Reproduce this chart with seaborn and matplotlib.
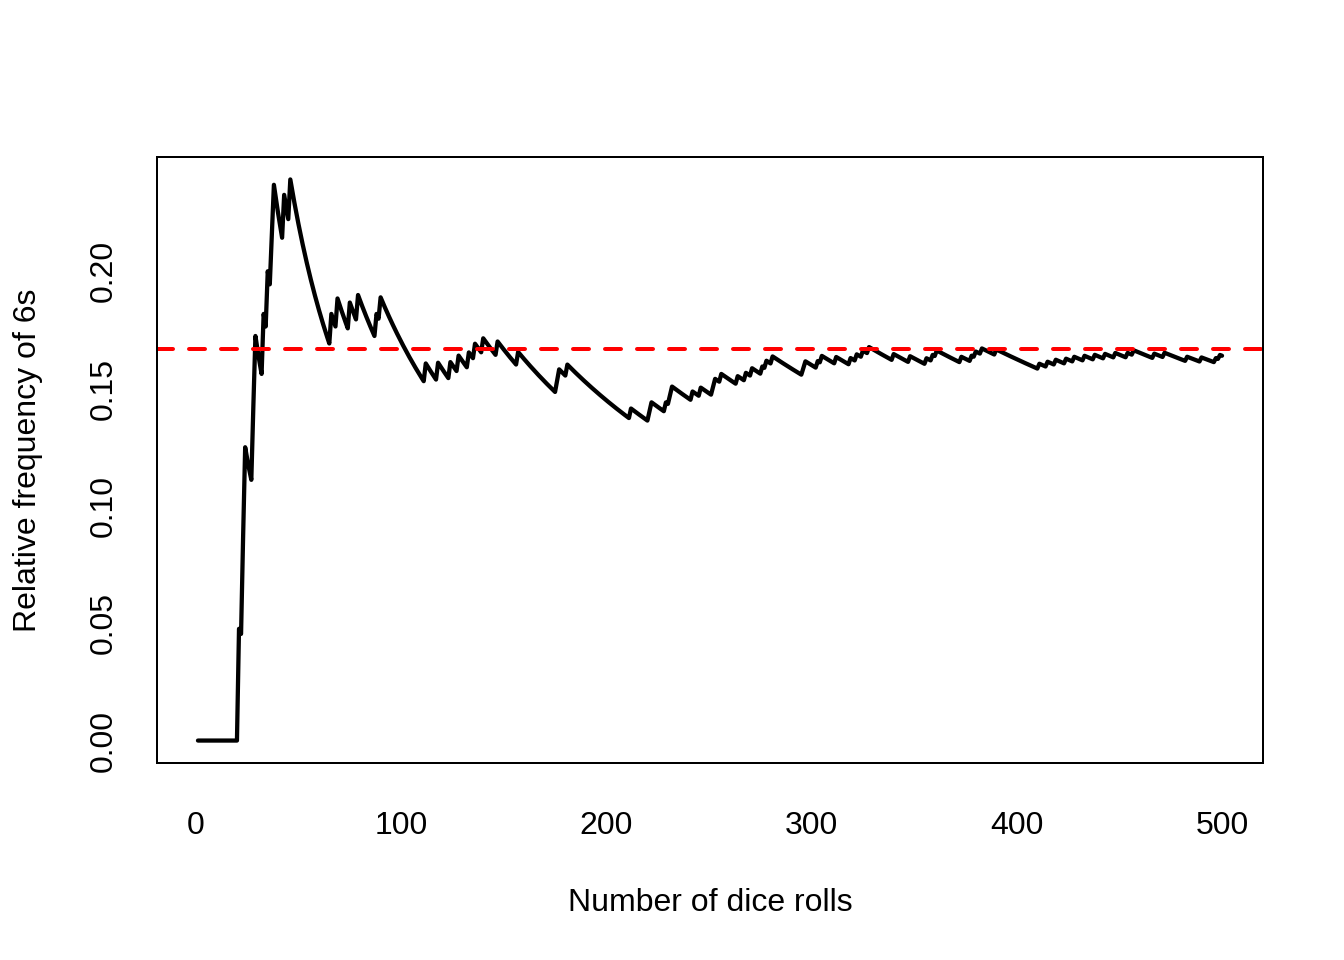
import numpy as np
import pandas as pd
import matplotlib
matplotlib.use("Agg")
import matplotlib.pyplot as plt
import seaborn as sns

# ---- data ----
n_rolls = 500
# roll numbers at which a six came up
rolls_with_six = [21, 23, 24, 28, 29, 33, 35, 37, 38, 43, 46,
                  66, 69, 75, 79, 88, 90,
                  112, 118, 124, 128, 133, 136, 140,
                  147, 157, 176, 177, 181,
                  212, 221, 222, 229, 231, 232,
                  242, 246, 252, 253,
                  256, 264, 268, 271, 276, 278, 281,
                  296, 297, 303, 305, 312,
                  319, 322, 325, 328,
                  340, 348, 356, 359, 361,
                  373, 378, 380, 383, 390,
                  411, 415, 419, 424, 428, 433, 438, 443, 448, 454,
                  457, 467, 472, 483, 490, 497, 499]
true_prob = 1 / 6
x_ticks = [0, 100, 200, 300, 400, 500]
y_ticks = [0.00, 0.05, 0.10, 0.15, 0.20]
y_tick_labels = ["0.00", "0.05", "0.10", "0.15", "0.20"]

roll = np.arange(1, n_rolls + 1)
is_six = np.isin(roll, rolls_with_six).astype(float)
df = pd.DataFrame({"roll": roll,
                   "rel_freq": pd.Series(is_six).expanding().mean().values})

sns.set_style("white")
plt.rcParams["font.family"] = ["Liberation Sans", "DejaVu Sans"]
plt.rcParams["axes.linewidth"] = 0.75
plt.rcParams["text.color"] = "black"
plt.rcParams["axes.labelcolor"] = "black"

fig = plt.figure(figsize=(7, 5), dpi=192)
ax = fig.add_axes([157 / 1344, 1 - 763 / 960, (1263 - 157) / 1344, (763 - 157) / 960])

sns.lineplot(data=df, x="roll", y="rel_freq", ax=ax, color="black",
             linewidth=1.6, estimator=None, solid_joinstyle="round")
ax.axhline(true_prob, color="red", linewidth=1.5, dashes=(4, 4),
           dash_capstyle="round")

ax.set_xlim(1 - 0.04 * 499, 500 + 0.04 * 499)
ymax = df["rel_freq"].max()
ax.set_ylim(-0.04 * ymax, ymax * 1.04)
ax.set_xticks(x_ticks)
ax.set_xticklabels([str(t) for t in x_ticks])
ax.set_yticks(y_ticks)
ax.set_yticklabels(y_tick_labels, va="center")

for s in ax.spines.values():
    s.set_visible(True)
    s.set_color("black")
    s.set_linewidth(0.75)

ax.tick_params(axis="both", which="major", direction="out", length=7.5,
               width=0.75, color="black", labelsize=12, labelcolor="black")
ax.tick_params(axis="x", pad=10.5)
ax.tick_params(axis="y", pad=7, labelrotation=90)
ax.set_xlabel("Number of dice rolls", fontsize=12, labelpad=17.5)
ax.set_ylabel("Relative frequency of 6s", fontsize=12, labelpad=17)
ax.grid(False)

fig.savefig("out.png", dpi=192, facecolor="white")
